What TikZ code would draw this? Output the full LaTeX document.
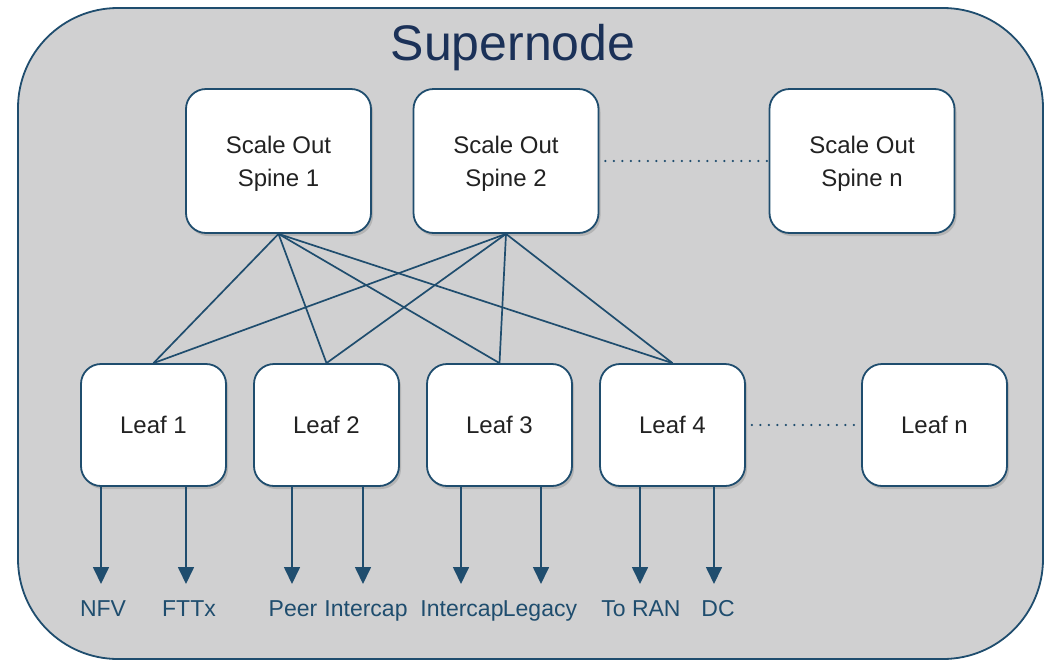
\documentclass[tikz,border=0pt]{standalone}
\usepackage{fontspec}
\setmainfont{Liberation Sans}
\usetikzlibrary{shadows,arrows.meta}
\definecolor{frame}{HTML}{1F4D6E}
\definecolor{panel}{HTML}{D0D0D1}
\definecolor{titleblue}{HTML}{1B3158}
\definecolor{ink}{HTML}{222222}
\tikzset{
  box/.style={draw=frame, line width=1.8pt, fill=white, rounded corners=20pt,
    align=center, text=ink, font=\fontsize{24}{33}\selectfont,
    drop shadow={opacity=0.35, shadow xshift=2pt, shadow yshift=-3pt}},
  spinebox/.style={box, minimum width=185pt, minimum height=144pt},
  leafbox/.style={box, minimum width=145pt, minimum height=122pt},
  link/.style={draw=frame, line width=1.7pt},
  gap/.style={draw=frame, line width=2.4pt, dash pattern=on 0pt off 8.5pt, line cap=round},
  uplink/.style={draw=frame, line width=1.7pt, -{Triangle[width=16pt,length=17pt]}},
  outlabel/.style={text=frame, font=\fontsize{23}{23}\selectfont, inner sep=0pt, anchor=base}
}
\begin{document}
\begin{tikzpicture}[x=1pt, y=-1pt]
\useasboundingbox (0,0) rectangle (1047,662);
\fill[white] (0,0) rectangle (1047,662);
% enclosing panel
\draw[draw=frame, fill=panel, line width=1.8pt, rounded corners=100pt] (18,8) rectangle (1043,659);
\node[text=titleblue, font=\fontsize{50}{50}\selectfont] (title) at (513,48) {Supernode};

% spines
\node[spinebox] (s1) at (278.5,161) {};
\node[spinebox] (s2) at (506,161) {};
\node[spinebox] (sn) at (862,161) {};
\node[align=center, text=ink, font=\fontsize{24}{33}\selectfont] (s1t) at (278.5,164) {Scale Out\\Spine 1};
\node[align=center, text=ink, font=\fontsize{24}{33}\selectfont] (s2t) at (506,164) {Scale Out\\Spine 2};
\node[align=center, text=ink, font=\fontsize{24}{33}\selectfont] (snt) at (862,164) {Scale Out\\Spine n};

% leaves
\node[leafbox] (l1) at (153.5,425) {Leaf 1};
\node[leafbox] (l2) at (326.5,425) {Leaf 2};
\node[leafbox] (l3) at (499.5,425) {Leaf 3};
\node[leafbox] (l4) at (672.5,425) {Leaf 4};
\node[leafbox] (ln) at (934.5,425) {Leaf n};

% full mesh between spines and leaves
\foreach \s in {s1,s2}
  \foreach \l in {l1,l2,l3,l4}
    \draw[link] (\s.south) -- (\l.north);

\draw[gap] ([xshift=6pt]s2.east) -- (sn.west);
\draw[gap] ([xshift=6pt]l4.east) -- (ln.west);

% external attachments
\foreach \x/\lx/\name/\txt in {101/103/a/NFV, 186/189/b/FTTx, 292/293/c/Peer, 363/366/d/Intercap,
                             461/462/e/Intercap, 541/540/f/Legacy, 640/641/g/To RAN, 714/718/h/DC}{
  \coordinate (\name) at (\x,584);
  \node[outlabel] (\name lbl) at (\lx,616) {\txt};
}
\draw[uplink] (l1.south -| a) -- (a);
\draw[uplink] (l1.south -| b) -- (b);
\draw[uplink] (l2.south -| c) -- (c);
\draw[uplink] (l2.south -| d) -- (d);
\draw[uplink] (l3.south -| e) -- (e);
\draw[uplink] (l3.south -| f) -- (f);
\draw[uplink] (l4.south -| g) -- (g);
\draw[uplink] (l4.south -| h) -- (h);
\end{tikzpicture}
\end{document}
